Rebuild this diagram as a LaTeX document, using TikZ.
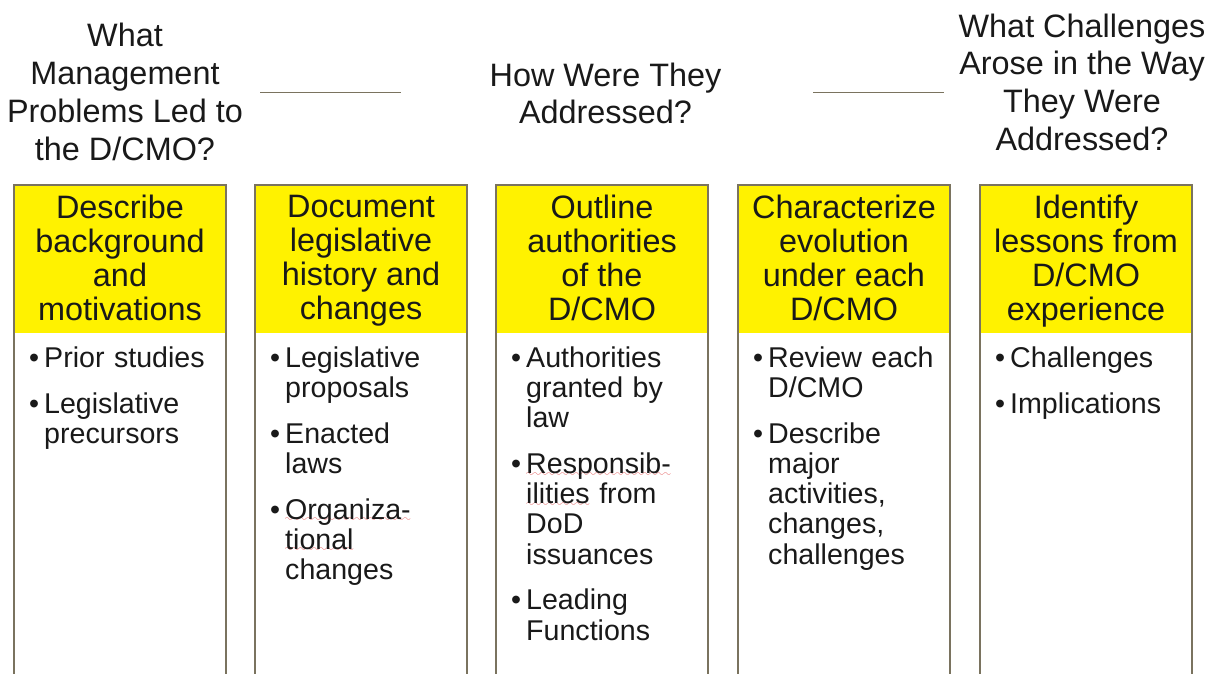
\documentclass[tikz,border=0pt]{standalone}
\usepackage{fontspec}
\setmainfont{Liberation Sans}
\definecolor{frameline}{HTML}{7A735F}
\definecolor{spellred}{HTML}{E04848}
\font\wavefont=lasy10
\newcommand{\spell}[1]{\setbox0\hbox{#1}\rlap{\raisebox{-2.5pt}[0pt][0pt]{\textcolor{spellred}{\hbox to\wd0{\xleaders\hbox{\wavefont\char58}\hfil}}}}\box0\relax}
\newcommand{\itm}[1]{\par\noindent\hangindent=15pt\hangafter=1\makebox[15pt][l]{\textbullet}#1\par\vspace{15.5pt}}
\tikzset{
  question/.style={anchor=north, align=center, inner sep=0pt, text=black!90, font=\fontsize{32.4}{37.8}\selectfont},
  heading/.style={anchor=north, align=center, inner sep=0pt, text=black!90, font=\fontsize{32.4}{34}\selectfont},
  points/.style={anchor=north west, inner sep=0pt, text width=190pt, text=black!90, font=\fontsize{28.6}{30.2}\selectfont},
  colbox/.style={draw=frameline, line width=1.6pt, anchor=north west, outer sep=0pt, inner sep=0pt,
    minimum width=212pt, minimum height=520pt,
    path picture={\fill[yellow] (path picture bounding box.north west) rectangle ([yshift=-148pt]path picture bounding box.north east);}},
  rule/.style={draw=frameline, line width=1pt}
}
\begin{document}
\begin{tikzpicture}[x=1pt,y=-1pt]
    \useasboundingbox (0,0) rectangle (1217,673);
    \node[question] (qA) at (125,23) {What\\Management\\Problems Led to\\the D/CMO?};
    \node[question] (qB) at (605.5,62.4) {How Were They\\Addressed?};
    \node[question] (qC) at (1082,13.4) {What Challenges\\Arose in the Way\\They Were\\Addressed?};
    \coordinate (rA1) at (260,92.3);
    \coordinate (rA2) at (401,92.3);
    \coordinate (rB1) at (813,92.3);
    \coordinate (rB2) at (944,92.3);
    \draw[rule] (rA1) -- (rA2);
    \draw[rule] (rB1) -- (rB2);
    \foreach \x/\n in {14/A,255/B,496/C,738/D,980/E}
        \node[colbox] (b\n) at (\x,185) {};
    \node[heading] (hA) at ([yshift=-10pt]bA.north) {Describe\\background\\and\\motivations};
    \node[heading] (hB) at ([yshift=-10pt]bB.north) {Document\\legislative\\history and\\changes};
    \node[heading] (hC) at ([yshift=-10pt]bC.north) {Outline\\authorities\\of the\\D/CMO};
    \node[heading] (hD) at ([yshift=-10pt]bD.north) {Characterize\\evolution\\under each\\D/CMO};
    \node[heading] (hE) at ([yshift=-10pt]bE.north) {Identify\\lessons from\\D/CMO\\experience};
    \node[points] (pA) at ([xshift=15pt,yshift=-152pt]bA.north west) {%
        \itm{Prior studies}
        \itm{Legislative\newline precursors}};
    \node[points] (pB) at ([xshift=15pt,yshift=-152pt]bB.north west) {%
        \itm{Legislative\newline proposals}
        \itm{Enacted\newline laws}
        \itm{\spell{Organiza-}\newline \spell{tional}\newline changes}};
    \node[points] (pC) at ([xshift=15pt,yshift=-152pt]bC.north west) {%
        \itm{Authorities\newline granted by\newline law}
        \itm{\spell{Responsib-}\newline \spell{ilities} from\newline DoD\newline issuances}
        \itm{Leading\newline Functions}};
    \node[points] (pD) at ([xshift=15pt,yshift=-152pt]bD.north west) {%
        \itm{Review each\newline D/CMO}
        \itm{Describe\newline major\newline activities,\newline changes,\newline challenges}};
    \node[points] (pE) at ([xshift=15pt,yshift=-152pt]bE.north west) {%
        \itm{Challenges}
        \itm{Implications}};
\end{tikzpicture}
\end{document}
